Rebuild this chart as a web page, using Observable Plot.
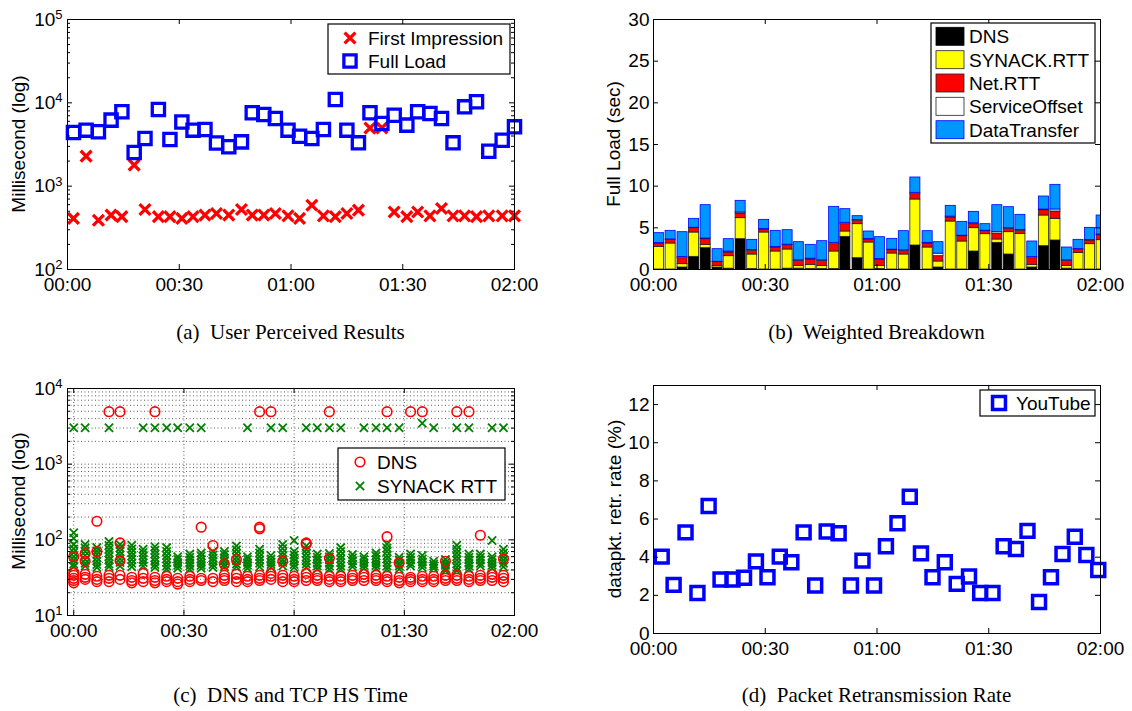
<!DOCTYPE html>
<html><head><meta charset="utf-8">
<script src="https://cdn.jsdelivr.net/npm/d3@7"></script>
<script src="https://cdn.jsdelivr.net/npm/@observablehq/plot@0.6"></script>
<style>
html,body{margin:0;padding:0;background:#fff;}
#root{position:relative;width:1132px;height:711px;overflow:hidden;background:#fff;}
#root svg{position:absolute;}
</style></head><body><div id="root"></div>
<script>
// ---------- shared ticks ----------
const timeTicks = [0, 30, 60, 90, 120];
const timeTickLabels = ["00:00", "00:30", "01:00", "01:30", "02:00"];

// ---------- (a) User Perceived Results ----------
const aTimes = [1.6,5.0,8.3,11.7,14.6,17.9,20.8,24.4,27.5,30.7,33.7,36.9,40.0,43.3,46.7,49.6,52.7,55.8,59.2,62.3,65.6,68.7,71.9,75.0,78.1,81.2,84.4,87.7,91.1,94.0,97.3,100.4,103.5,106.6,109.8,113.1,116.7,120];
const aFirstImpression = [410,2290,390,450,430,1790,525,430,430,410,430,450,470,450,525,450,450,470,440,410,590,440,430,470,515,4980,5000,490,430,490,440,540,440,440,430,440,440,440];
const aFullLoad = [4400,4700,4490,6200,7800,2540,3730,8300,3630,5900,4700,4790,3300,2970,3400,7600,7240,6490,4700,3980,3730,4790,10960,4700,3310,7590,5650,7110,5400,7800,7450,6490,3310,8950,10280,2630,3560,5150];
const aYTicks = [1e2, 1e3, 1e4, 1e5];
const aYMinor = [200,300,400,500,600,700,800,900,2000,3000,4000,5000,6000,7000,8000,9000,20000,30000,40000,50000,60000,70000,80000,90000];

// ---------- (b) Weighted Breakdown (seconds) ----------
const bTimes = [1.5,4.6,7.8,10.9,14.0,17.2,20.2,23.4,26.5,29.7,32.8,36.0,39.0,42.2,45.3,48.5,51.5,54.8,57.8,60.8,64.1,67.2,70.3,73.6,76.5,79.8,82.9,86.0,89.1,92.3,95.4,98.5,101.7,104.8,107.9,111.0,114.1,117.2,120.3];
const bDNS = [0,0,0.24,1.52,2.56,0.24,0.10,3.64,0.05,0,0,0.10,0.10,0.05,0.05,0.05,3.92,1.36,0,0.05,0,0,2.88,0,0.24,0,0,2.16,0,3.20,1.80,0,0.24,2.80,3.48,0.10,0,0,0];
const bSYNACK = [2.72,3.12,0.40,2.92,0.40,0.20,1.50,2.52,1.75,4.44,2.16,2.30,0.34,0.51,0.39,2.11,0.64,4.08,3.24,0.39,1.92,1.80,5.52,2.64,0.72,5.76,3.36,2.80,4.24,0.40,2.68,4.28,0.32,3.68,2.60,0.34,2.00,3.04,3.52];
const bNetRTT = [0.40,0.44,0.72,0.52,0.68,0.44,0.44,0.56,0.44,0.36,0.48,0.52,0.60,0.64,0.60,0.88,0.88,0.40,0.36,0.76,0.40,0.44,0.64,0.48,0.64,0.48,0.64,0.48,0.36,0.72,0.40,0.36,0.80,0.64,0.88,0.60,0.36,0.44,0.60];
const bServiceOffset = [0.05,0.05,0.14,0.05,0.08,0.05,0.11,0.13,0.11,0.06,0.06,0.06,0.06,0.10,0.06,0.16,0.16,0.11,0.06,0.06,0.06,0.06,0.16,0.08,0.30,0.11,0.06,0.11,0.06,0.18,0.07,0.11,0.14,0.08,0.24,0.06,0.09,0.07,0.08];
const bDataTransfer = [1.19,1.03,2.98,1.07,4.00,1.51,1.49,1.39,1.21,1.10,1.94,1.74,2.18,1.66,2.30,4.32,1.64,0.45,0.90,2.62,1.30,2.30,1.84,1.40,1.38,1.29,1.66,1.37,0.78,3.22,2.53,1.81,1.86,1.56,2.96,1.54,1.11,1.45,2.28];
const bSeriesNames = ["DNS", "SYNACK.RTT", "Net.RTT", "ServiceOffset", "DataTransfer"];
const bSeriesColors = ["#000000", "#ffff00", "#ff0000", "#ffffff", "#0096ff"];
const bSeriesEdges = ["#000000", "#222222", "#222222", "#222222", "#0000ff"];
const bBarWidth = 2.7; // minutes
const bYTicks = [0, 5, 10, 15, 20, 25, 30];

// ---------- (c) DNS and TCP HS Time (ms) ----------
const cTimes = [0,3.1,6.3,9.6,12.6,15.8,18.9,22.1,25.3,28.3,31.6,34.7,37.9,41.0,44.3,47.3,50.6,53.7,56.9,60.0,63.3,66.3,69.6,72.7,75.9,79.0,82.3,85.3,88.6,91.7,94.9,98.0,101.2,104.3,107.6,110.7,113.9,117.0];
const cDNS = [
  [27,29,31,34,37,60],[30,32,35,52,66],[28,30,33,70,176],[28,31,34],[30,34,53,91],
  [27,29,32],[28,31,36],[27,29,32],[28,30,33],[26,28,31],
  [28,30,33],[29,31,147],[28,31,84],[29,31,34,48],[28,31,35,55],
  [28,30,33],[29,31,34,140,147],[30,33,36],[28,31,34,52],[28,30,33],
  [29,32,36,88,91],[29,31,34],[28,30,33,57],[28,30,33],[29,31,34],
  [29,32,35],[29,31,34],[28,30,33,110],[27,29,32,50],[28,30,32],
  [28,30,33],[28,30,33],[29,31,34,52],[29,31,34],[28,30,33],
  [29,31,34,115],[29,32,35],[28,31,34,56]
];
const cSYNACK = [
  [124,105,87,76,68,60,54,48,44],[87,78,70,62,55,49,45],[79,71,64,58,52,47,43],[95,84,75,67,60,54,48,44],[87,78,70,63,56,50,45],
  [85,76,68,61,55,49,44],[75,68,61,55,50,45],[81,73,65,58,52,47,43],[79,70,62,56,50,45,41],[60,55,50,46,42],
  [65,59,54,49,45,41],[67,61,55,50,46,42],[70,63,57,52,47,43],[70,64,58,53,48,44],[83,74,66,59,53,48,44],
  [60,55,50,46,42],[75,67,60,54,49,44],[62,56,51,47,43],[87,77,68,61,55,50,45],[98,70,63,57,52,47,43],
  [83,74,66,59,53,48,43],[65,59,54,49,45,41],[66,60,54,49,45,41],[79,70,62,56,50,45,41],[64,58,53,48,44],
  [60,55,50,46,42],[67,61,55,50,46,42],[88,78,70,62,56,50,45,41],[59,54,49,45,41],[65,59,54,49,45],
  [62,56,51,47,43],[52,48,45,42],[55,50,46,42,39],[85,75,67,60,54,48,43,39],[65,59,54,49,45,41],
  [65,59,54,49,45],[98,60,55,50,46,42],[75,67,60,54,49,44]
];
const cDNSHighTimes = [9.6,12.6,22.1,50.6,53.7,69.6,85.3,91.7,94.9,104.3,107.6];
const cDNSHighValues = [4940,4940,4940,4940,4940,4940,4940,4940,4940,4940,4940];
const cSYNHighTimes = [0,3.1,9.6,18.9,22.1,25.3,28.3,31.6,34.7,47.3,53.7,56.9,63.3,66.3,69.6,72.7,79.0,82.3,85.3,88.6,94.9,98.0,104.3,107.6,113.9,117.0];
const cSYNHighValues = [3030,3030,3030,3030,3030,3030,3030,3030,3030,3030,3030,3030,3030,3030,3030,3030,3030,3030,3030,3030,3470,3030,3030,3030,3030,3030];
const cYTicks = [10, 100, 1000, 10000];
const cYMinor = [20,30,40,50,60,70,80,90,200,300,400,500,600,700,800,900,2000,3000,4000,5000,6000,7000,8000,9000];

// ---------- (d) Packet Retransmission Rate (%) ----------
const dTimes = [2.2,5.4,8.6,11.8,14.8,18.0,21.2,24.3,27.5,30.6,33.9,37.0,40.3,43.4,46.5,49.7,53.0,56.1,59.2,62.4,65.5,68.8,71.8,74.9,78.2,81.4,84.7,87.7,91.0,94.0,97.3,100.4,103.5,106.7,109.8,113.1,116.2,119.4];
const dYouTube = [4.03,2.55,5.3,2.12,6.68,2.83,2.83,2.92,3.78,2.95,4.03,3.73,5.3,2.52,5.35,5.26,2.52,3.82,2.52,4.57,5.78,7.17,4.2,2.95,3.73,2.6,2.99,2.12,2.12,4.57,4.43,5.38,1.65,2.95,4.17,5.07,4.11,3.33];
const dYTicks = [0, 2, 4, 6, 8, 10, 12];

// ---------- helpers ----------
const root = document.getElementById("root");
const FONT = "'Liberation Sans', Arial, Helvetica, sans-serif";
const fmtTime = d => timeTickLabels[timeTicks.indexOf(d)];
const fmtPow = d => "10^" + Math.round(Math.log10(d));

function supify(svg) {
  d3.select(svg).selectAll("text").each(function () {
    const m = /^10\^(\d)$/.exec(this.textContent);
    if (m) {
      const s = d3.select(this);
      s.text(null);
      s.append("tspan").text("10");
      s.append("tspan").attr("dy", "-0.5em").attr("font-size", "13px").text(m[1]);
    }
  });
}

function mkPanel(o) {
  const [fx0, fy0, fx1, fy1] = o.frame;
  const pw = fx1 - fx0, ph = fy1 - fy0;
  const L = 5, Lm = 3;
  const tk = [
    Plot.tickX(timeTicks, {x: d => d, insetTop: ph - L, stroke: "#000"}),
    Plot.tickX(timeTicks, {x: d => d, insetBottom: ph - L, stroke: "#000"}),
    Plot.tickY(o.yTicks, {y: d => d, insetRight: pw - L, stroke: "#000"}),
    Plot.tickY(o.yTicks, {y: d => d, insetLeft: pw - L, stroke: "#000"})
  ];
  if (o.yMinor) {
    tk.push(Plot.tickY(o.yMinor, {y: d => d, insetRight: pw - Lm, stroke: "#000"}));
    tk.push(Plot.tickY(o.yMinor, {y: d => d, insetLeft: pw - Lm, stroke: "#000"}));
  }
  const svg = Plot.plot({
    width: o.width, height: o.height,
    marginLeft: fx0 - o.left, marginRight: o.left + o.width - fx1,
    marginTop: fy0 - o.top, marginBottom: o.top + o.height - fy1,
    x: o.x, y: o.y,
    style: {fontFamily: FONT, fontSize: "19px", color: "#000", background: "transparent", overflow: "visible"},
    marks: [
      ...o.marks,
      Plot.frame({stroke: "#000", strokeWidth: 1}),
      ...tk,
      Plot.axisX(timeTicks, {tickFormat: fmtTime, tickSize: 0, tickPadding: 8, label: null, fontSize: 19}),
      Plot.axisY(o.yTicks, {tickFormat: o.yFmt, tickSize: 0, tickPadding: o.yPad ?? 5, label: null, fontSize: 19})
    ]
  });
  svg.style.left = o.left + "px";
  svg.style.top = o.top + "px";
  if (o.sup) supify(svg);
  root.appendChild(svg);
  return svg;
}

// ---------- (a) ----------
const aRows = aTimes.map((t, i) => ({t, first: aFirstImpression[i], full: aFullLoad[i]}));
mkPanel({
  left: 0, top: 0, width: 566, height: 360, frame: [67, 19, 514, 269],
  x: {domain: [0, 120]}, y: {type: "log", domain: [1e2, 1e5]},
  yTicks: aYTicks, yMinor: aYMinor, yFmt: fmtPow, sup: true,
  marks: [
    Plot.dot(aRows, {x: "t", y: "first", symbol: "times", r: 5, stroke: "#ff0000", strokeWidth: 3.3}),
    Plot.dot(aRows, {x: "t", y: "full", symbol: "square", r: 6.9, stroke: "#0000ff", strokeWidth: 3.3, fill: "none"})
  ]
});

// ---------- (b) ----------
const bCols = [bDNS, bSYNACK, bNetRTT, bServiceOffset, bDataTransfer];
const bRows = [];
bTimes.forEach((t, i) => {
  let acc = 0;
  bCols.forEach((col, s) => {
    const v = col[i];
    bRows.push({t, s, y1: acc, y2: acc + v});
    acc += v;
  });
});
mkPanel({
  left: 566, top: 0, width: 566, height: 360, frame: [653, 19, 1100, 269],
  x: {domain: [0, 120]}, y: {domain: [0, 30]},
  yTicks: bYTicks, yFmt: d => String(d), yPad: 4,
  marks: bSeriesNames.map((name, s) =>
    Plot.rect(bRows.filter(r => r.s === s && r.y2 > r.y1), {
      x1: d => d.t - bBarWidth / 2, x2: d => d.t + bBarWidth / 2, y1: "y1", y2: "y2",
      fill: bSeriesColors[s], stroke: bSeriesEdges[s], strokeWidth: 0.8, clip: true
    }))
});

// ---------- (c) ----------
const cDnsRows = [], cSynRows = [];
cTimes.forEach((t, i) => {
  cDNS[i].forEach(v => cDnsRows.push({t, v}));
  cSYNACK[i].forEach(v => cSynRows.push({t, v}));
});
cDNSHighTimes.forEach((t, i) => cDnsRows.push({t, v: cDNSHighValues[i]}));
cSYNHighTimes.forEach((t, i) => cSynRows.push({t, v: cSYNHighValues[i]}));
const gridStyle = {stroke: "#333", strokeOpacity: 1, strokeWidth: 0.8, strokeDasharray: "1,2.5"};
mkPanel({
  left: 0, top: 360, width: 566, height: 351, frame: [67, 388, 514, 615],
  x: {domain: [-1.7, 120]}, y: {type: "log", domain: [10, 1e4]},
  yTicks: cYTicks, yMinor: cYMinor, yFmt: fmtPow, sup: true,
  marks: [
    Plot.gridY([...cYTicks, ...cYMinor], gridStyle),
    Plot.gridX([0, 30, 60, 90], gridStyle),
    Plot.dot(cSynRows, {x: "t", y: "v", symbol: "times", r: 3.8, stroke: "#008000", strokeWidth: 1.8}),
    Plot.dot(cDnsRows, {x: "t", y: "v", r: 4.8, stroke: "#ff0000", strokeWidth: 1.6, fill: "none"})
  ]
});

// ---------- (d) ----------
const dRows = dTimes.map((t, i) => ({t, v: dYouTube[i]}));
mkPanel({
  left: 566, top: 360, width: 566, height: 351, frame: [653, 385, 1100, 633],
  x: {domain: [0, 120]}, y: {domain: [0, 13]},
  yTicks: dYTicks, yFmt: d => String(d), yPad: 4,
  marks: [
    Plot.dot(dRows, {x: "t", y: "v", symbol: "square", r: 7.3, stroke: "#0000ff", strokeWidth: 3.5, fill: "none"})
  ]
});

// ---------- overlay: legends, axis titles, captions ----------
const ov = d3.create("svg").attr("width", 1132).attr("height", 711)
  .style("left", "0px").style("top", "0px").style("pointer-events", "none")
  .attr("font-family", FONT).attr("font-size", 19);
root.appendChild(ov.node());

function box(x, y, w, h) {
  ov.append("rect").attr("x", x).attr("y", y).attr("width", w).attr("height", h)
    .attr("fill", "#fff").attr("stroke", "#000").attr("stroke-width", 1.2);
}
function ltext(x, y, s) {
  ov.append("text").attr("x", x).attr("y", y).attr("dy", "0.36em").text(s);
}
function lsym(x, y, type, r, stroke, sw) {
  ov.append("path").attr("transform", `translate(${x},${y})`)
    .attr("d", d3.symbol(type, Math.PI * r * r)())
    .attr("fill", "none").attr("stroke", stroke).attr("stroke-width", sw);
}

// legend (a)
box(328, 24, 182, 50);
lsym(350, 38, d3.symbolTimes, 5, "#ff0000", 3.3); ltext(368, 38, "First Impression");
lsym(350, 61, d3.symbolSquare, 6.9, "#0000ff", 3.3); ltext(368, 61, "Full Load");

// legend (b)
box(931, 23, 164, 120);
const bLegY = [36.3, 59.7, 83, 106.3, 129.7];
bSeriesNames.forEach((name, s) => {
  ov.append("rect").attr("x", 936).attr("y", bLegY[s] - 9).attr("width", 28).attr("height", 18)
    .attr("fill", bSeriesColors[s]).attr("stroke", bSeriesEdges[s]).attr("stroke-width", 0.8);
  ltext(969, bLegY[s], name);
});

// legend (c)
box(338, 448, 167, 52);
lsym(360, 462, d3.symbolCircle, 4.8, "#ff0000", 1.6); ltext(377, 462, "DNS");
lsym(360, 486, d3.symbolTimes, 3.8, "#008000", 1.8); ltext(377, 486, "SYNACK RTT");

// legend (d)
box(980, 390, 115, 26);
lsym(999, 403, d3.symbolSquare, 7.3, "#0000ff", 3.5); ltext(1016, 403, "YouTube");

// axis titles
function ytitle(x, y, s) {
  ov.append("text").attr("transform", `translate(${x},${y}) rotate(-90)`)
    .attr("text-anchor", "middle").attr("dy", "0.36em").text(s);
}
ytitle(18, 144, "Millisecond (log)");
ytitle(613, 144, "Full Load (sec)");
ytitle(18, 501, "Millisecond (log)");
ytitle(614, 509, "datapkt. retr. rate (%)");

// captions
function caption(x, y, s) {
  ov.append("text").attr("x", x).attr("y", y).attr("dy", "0.35em").attr("text-anchor", "middle")
    .attr("font-family", "'Liberation Serif', 'Times New Roman', serif").attr("font-size", 21)
    .style("white-space", "pre").text(s);
}
caption(290.5, 332, "(a)  User Perceived Results");
caption(876.5, 332, "(b)  Weighted Breakdown");
caption(290.5, 695, "(c)  DNS and TCP HS Time");
caption(876.5, 695, "(d)  Packet Retransmission Rate");
</script></body></html>
